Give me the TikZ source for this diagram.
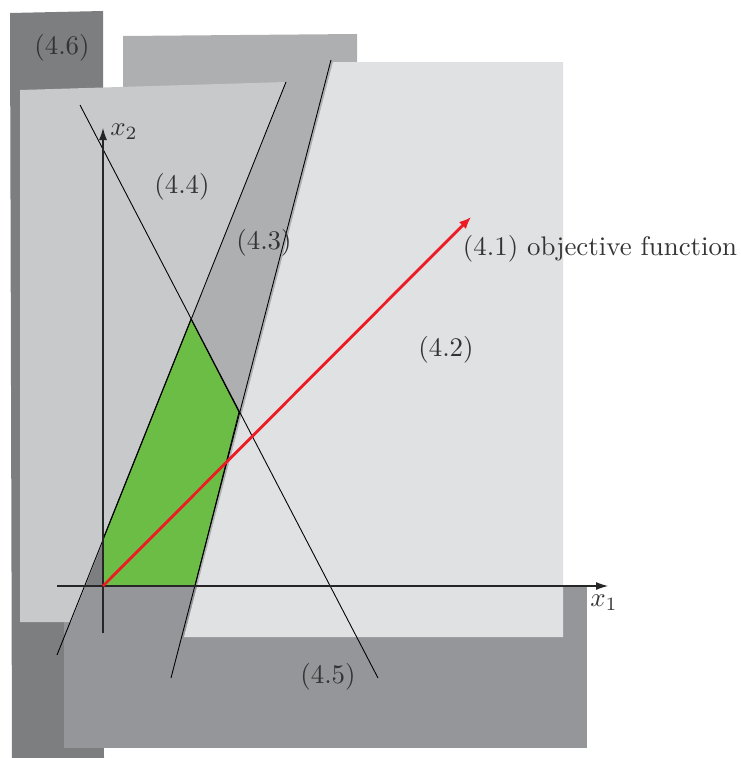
\documentclass[tikz,border=0pt]{standalone}
\usepackage{tikz}
\usetikzlibrary{positioning}
\usetikzlibrary{arrows.meta}
\definecolor{shadeA}{RGB}{125,126,128}
\definecolor{shadeB}{RGB}{149,150,153}
\definecolor{shadeC}{RGB}{174,175,177}
\definecolor{shadeD}{RGB}{200,201,203}
\definecolor{shadeE}{RGB}{224,225,227}
\definecolor{feasible}{RGB}{107,189,69}
\definecolor{red}{RGB}{237,28,36}

\begin{document}
\begin{tikzpicture}[
    x=0.02cm, y=-0.02cm,
    bound/.style={black, line width=0.5pt},
    axis/.style={-{Latex[length=0.24cm, width=0.16cm]}, black!85, line width=0.6pt},
    objarrow/.style={-{Latex[length=0.24cm, width=0.2cm]}, red, line width=1.6pt},
    tag/.style={font=\normalsize, scale=1.53, transform shape, text=black!80, inner sep=0pt}
]
    \useasboundingbox (0,0) rectangle (741,758);

    % half planes, back to front
    \fill[shadeA] (10,13) -- (103,11) -- (104,758) -- (12,758) -- cycle;
    \fill[shadeC] (123,36) -- (357,34) -- (357,600) -- (123,600) -- cycle;
    \fill[shadeB] (64,586) -- (587,586) -- (587,748) -- (64,748) -- cycle;
    \fill[shadeD] (20,90) -- (286,82) -- (71,622) -- (20,622) -- cycle;
    \fill[shadeE] (333,62) -- (563,62) -- (563,637) -- (184,637) -- cycle;

    % feasible region
    \fill[feasible, draw=black, line width=0.5pt]
        (103,586) -- (103,539) -- (191,319) -- (239,412) -- (195,586) -- cycle;

    % constraint lines
    \coordinate (L4a) at (57,655);  \coordinate (L4b) at (286,82);
    \coordinate (L2a) at (171,678); \coordinate (L2b) at (331,60);
    \coordinate (L5a) at (80,105);  \coordinate (L5b) at (378,678);
    \draw[bound] (L4a) -- (L4b);
    \draw[bound] (L2a) -- (L2b);
    \draw[bound] (L5a) -- (L5b);

    % axes
    \coordinate (O) at (103,586);
    \coordinate (x1s) at (57,586);  \coordinate (x1e) at (608,586);
    \coordinate (x2s) at (103,633); \coordinate (x2e) at (103,128);
    \draw[axis] (x1s) -- (x1e);
    \draw[axis] (x2s) -- (x2e);
    \node[tag] (x1) at (604,603) {$x_1$};
    \node[tag] (x2) at (124,132) {$x_2$};

    % objective
    \coordinate (tip) at (471,217);
    \draw[objarrow] (O) -- (tip);

    % labels
    \node[tag] (c41) at (600,249) {(4.1) objective function};
    \node[tag] (c42) at (446,350) {(4.2)};
    \node[tag] (c43) at (264,243) {(4.3)};
    \node[tag] (c44) at (182,187) {(4.4)};
    \node[tag] (c45) at (328,677) {(4.5)};
    \node[tag] (c46) at (62,48) {(4.6)};
\end{tikzpicture}
\end{document}
